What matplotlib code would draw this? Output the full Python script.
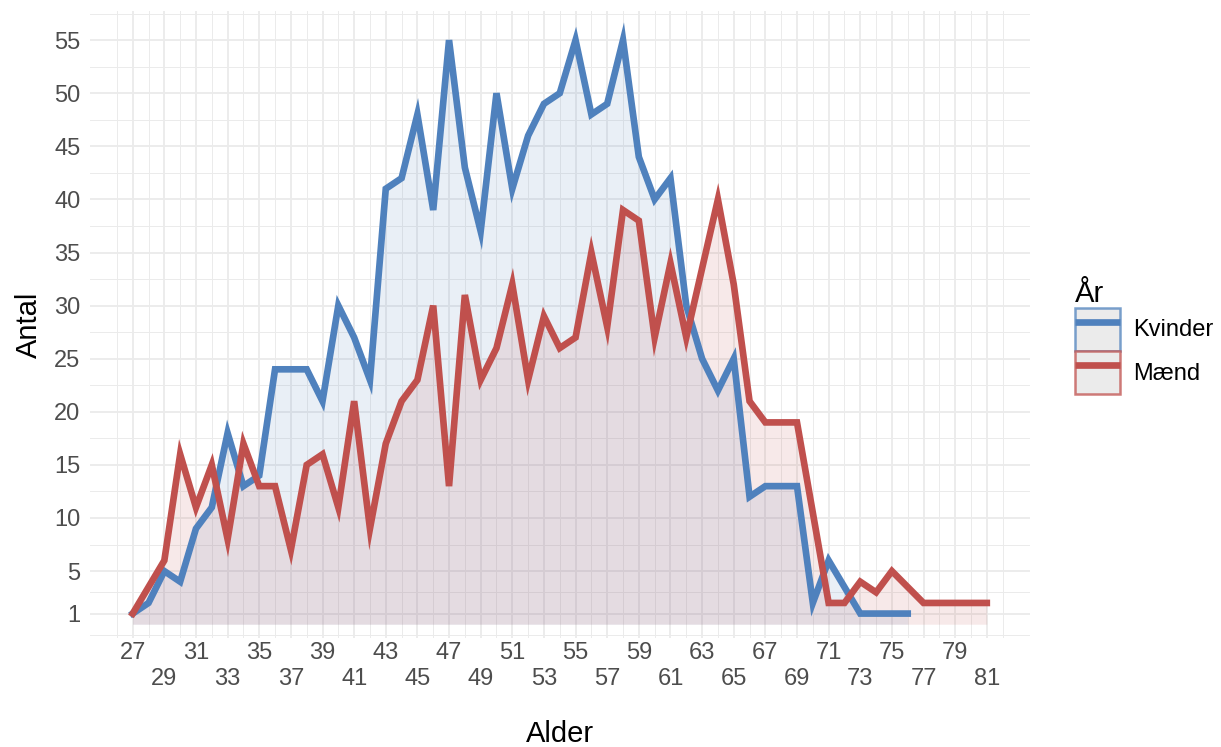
import numpy as np
import matplotlib
matplotlib.use("Agg")
import matplotlib.pyplot as plt
from matplotlib.patches import Patch
from matplotlib.lines import Line2D
from matplotlib.legend_handler import HandlerTuple
from matplotlib.colors import to_rgba

plt.rcParams['font.family'] = ['Liberation Sans', 'DejaVu Sans']

# data
ages_k = list(range(27, 77))
kvinder = [1, 2, 5, 4, 9, 11, 18, 13, 14, 24,
           24, 24, 21, 30, 27, 23, 41, 42, 48, 39,
           55, 43, 37, 50, 41, 46, 49, 50, 55, 48,
           49, 55, 44, 40, 42, 30, 25, 22, 25, 12,
           13, 13, 13, 2, 6, 3.5, 1, 1, 1, 1]

ages_m = list(range(27, 82))
maend = [1, 3.5, 6, 16, 11, 15, 8, 17, 13, 13,
         7, 15, 16, 11, 21, 9, 17, 21, 23, 30,
         13, 31, 23, 26, 32, 23, 29, 26, 27, 35,
         28, 39, 38, 27, 34, 27, 33.5, 40, 32, 21,
         19, 19, 19, 10.5, 2, 2, 4, 3, 5, 3.5,
         2, 2, 2, 2, 2]

series = [("Kvinder", ages_k, kvinder, "#4F81BD"),
          ("Mænd", ages_m, maend, "#C0504D")]

x_breaks = list(range(27, 82, 2))
y_breaks = [1, 5, 10, 15, 20, 25, 30, 35, 40, 45, 50, 55]

fig = plt.figure(figsize=(12.21, 7.47), dpi=100)
# panel: x 90..1029.5 px, y 10.9..638 px
ax = fig.add_axes([90 / 1221, (747 - 638) / 747, 939.5 / 1221, 627.1 / 747])

for name, x, y, c in series:
    ax.fill_between(x, 0, y, color=c, alpha=0.12, linewidth=0, zorder=1)
for name, x, y, c in series:
    ax.plot(x, y, color=c, linewidth=4.8, solid_joinstyle='miter', zorder=3)

ax.set_xlim(24.3, 83.7)
ax.set_ylim(-1.3, 57.75)

ax.set_xticks(x_breaks)
ax.set_xticklabels([str(v) if i % 2 == 0 else "\n" + str(v) for i, v in enumerate(x_breaks)])
ax.set_xticks(list(range(26, 84, 2)), minor=True)
ax.set_yticks(y_breaks)
ax.set_yticks([-1, 3, 7.5, 12.5, 17.5, 22.5, 27.5, 32.5, 37.5, 42.5, 47.5, 52.5, 57.5], minor=True)

ax.grid(which='major', color='#EBEBEB', linewidth=1.3, zorder=0)
ax.grid(which='minor', color='#EBEBEB', linewidth=0.7, zorder=0)
ax.set_axisbelow(True)
for s in ax.spines.values():
    s.set_visible(False)

ax.tick_params(which='both', length=0)
ax.tick_params(axis='x', pad=3, labelsize=17, labelcolor='#4D4D4D')
ax.tick_params(axis='y', pad=7, labelsize=17, labelcolor='#4D4D4D')
for lab in ax.get_xticklabels():
    lab.set_linespacing(1.25)

ax.set_xlabel("Alder", fontsize=21)
ax.xaxis.set_label_coords(0.5, -0.131)
ax.set_ylabel("Antal", fontsize=21)
ax.yaxis.set_label_coords(-0.05, 0.5)

handles = []
for name, x, y, c in series:
    handles.append((Patch(facecolor='#EBEBEB', edgecolor=to_rgba(c, 0.75), linewidth=1.8),
                    Line2D([], [], color=c, linewidth=4.8, solid_capstyle='butt')))

leg = ax.legend(handles, [s[0] for s in series],
                handler_map={tuple: HandlerTuple(ndivide=1, pad=0)},
                title="År", loc='center left',
                bbox_to_anchor=(0.871, 0.549), bbox_transform=fig.transFigure,
                frameon=False, fontsize=17, title_fontsize=21,
                handlelength=1.9, handleheight=2.45, labelspacing=0.0,
                handletextpad=0.55, borderpad=0, alignment='left')

fig.savefig("out.png", dpi=100)
